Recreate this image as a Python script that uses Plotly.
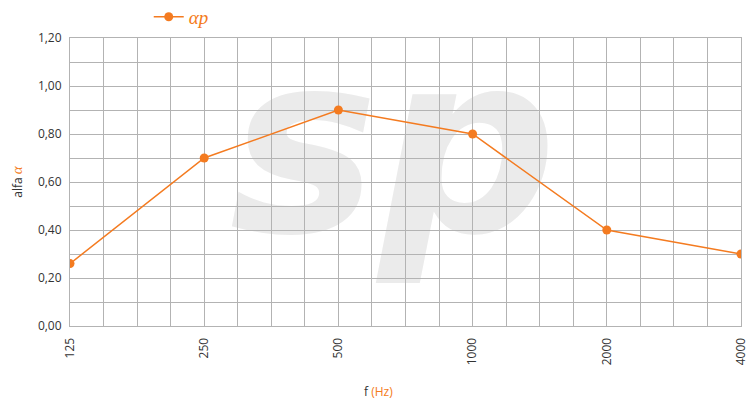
import plotly.graph_objects as go

freqs = ["125", "250", "500", "1000", "2000", "4000"]
alpha_p = [0.26, 0.70, 0.90, 0.80, 0.40, 0.30]
series_name = "<i>αp</i>"

ORANGE = "#f47b20"
GRID = "#b3b3b3"
TXT = "#333333"
FONT = "Open Sans"
SERIF = "Liberation Serif"

idx = list(range(len(freqs)))

fig = go.Figure()
fig.add_trace(go.Scatter(
    x=idx, y=alpha_p, mode="lines+markers", name=series_name,
    line=dict(color=ORANGE, width=1.5),
    marker=dict(color=ORANGE, size=9),
))

# watermark as real text, drawn beneath the grid
fig.add_shape(
    type="rect", xref="paper", yref="paper", x0=0.012, x1=0.952, y0=0.386, y1=1.0,
    layer="below", line=dict(width=0), fillcolor="rgba(0,0,0,0)",
    label=dict(text="<b><i>sp</i></b>", textposition="middle center",
               font=dict(family="DejaVu Sans", size=250, color="#ebebeb")),
)

fig.update_layout(
    width=755, height=403,
    margin=dict(l=70, r=14, t=38, b=77, autoexpand=False),
    paper_bgcolor="white", plot_bgcolor="white",
    separators=", ",
    font=dict(family=FONT, size=12, color=TXT),
    showlegend=True,
    legend=dict(orientation="h", xref="container", yref="container",
                x=0.197, y=0.958, xanchor="left", yanchor="middle",
                font=dict(family=SERIF, size=19, color=ORANGE),
                bgcolor="rgba(0,0,0,0)"),
    xaxis=dict(
        range=[0, len(freqs) - 1], tickvals=idx, ticktext=freqs,
        tickangle=-90, showgrid=True, gridcolor=GRID, gridwidth=1,
        minor=dict(dtick=0.25, showgrid=True, gridcolor=GRID, gridwidth=1),
        showline=True, linecolor=GRID, mirror=True, zeroline=False,
        ticks="outside", ticklen=6, tickcolor="rgba(0,0,0,0)",
        tickfont=dict(size=12, color=TXT),
    ),
    yaxis=dict(
        range=[0, 1.2], dtick=0.2, tickformat=".2f",
        showgrid=True, gridcolor=GRID, gridwidth=1,
        minor=dict(dtick=0.1, showgrid=True, gridcolor=GRID, gridwidth=1),
        showline=True, linecolor=GRID, mirror=True, zeroline=False,
        ticks="outside", ticklen=5, tickcolor="rgba(0,0,0,0)",
        tickfont=dict(size=12, color=TXT),
        title=dict(text=f"alfa <span style='color:{ORANGE};font-family:{SERIF};font-size:15px'><i>α</i></span>",
                   font=dict(size=12, color=TXT), standoff=12),
    ),
    annotations=[dict(
        text=f"<span style='color:{TXT}'>f</span> <span style='color:{ORANGE}'>(Hz)</span>",
        xref="paper", yref="paper", x=0.46, y=-0.229,
        xanchor="center", yanchor="middle", showarrow=False,
        font=dict(size=12, color=TXT),
    )],
)

fig.write_html("out.html", config={"displayModeBar": False},
               post_script="document.body.style.margin='0';")
